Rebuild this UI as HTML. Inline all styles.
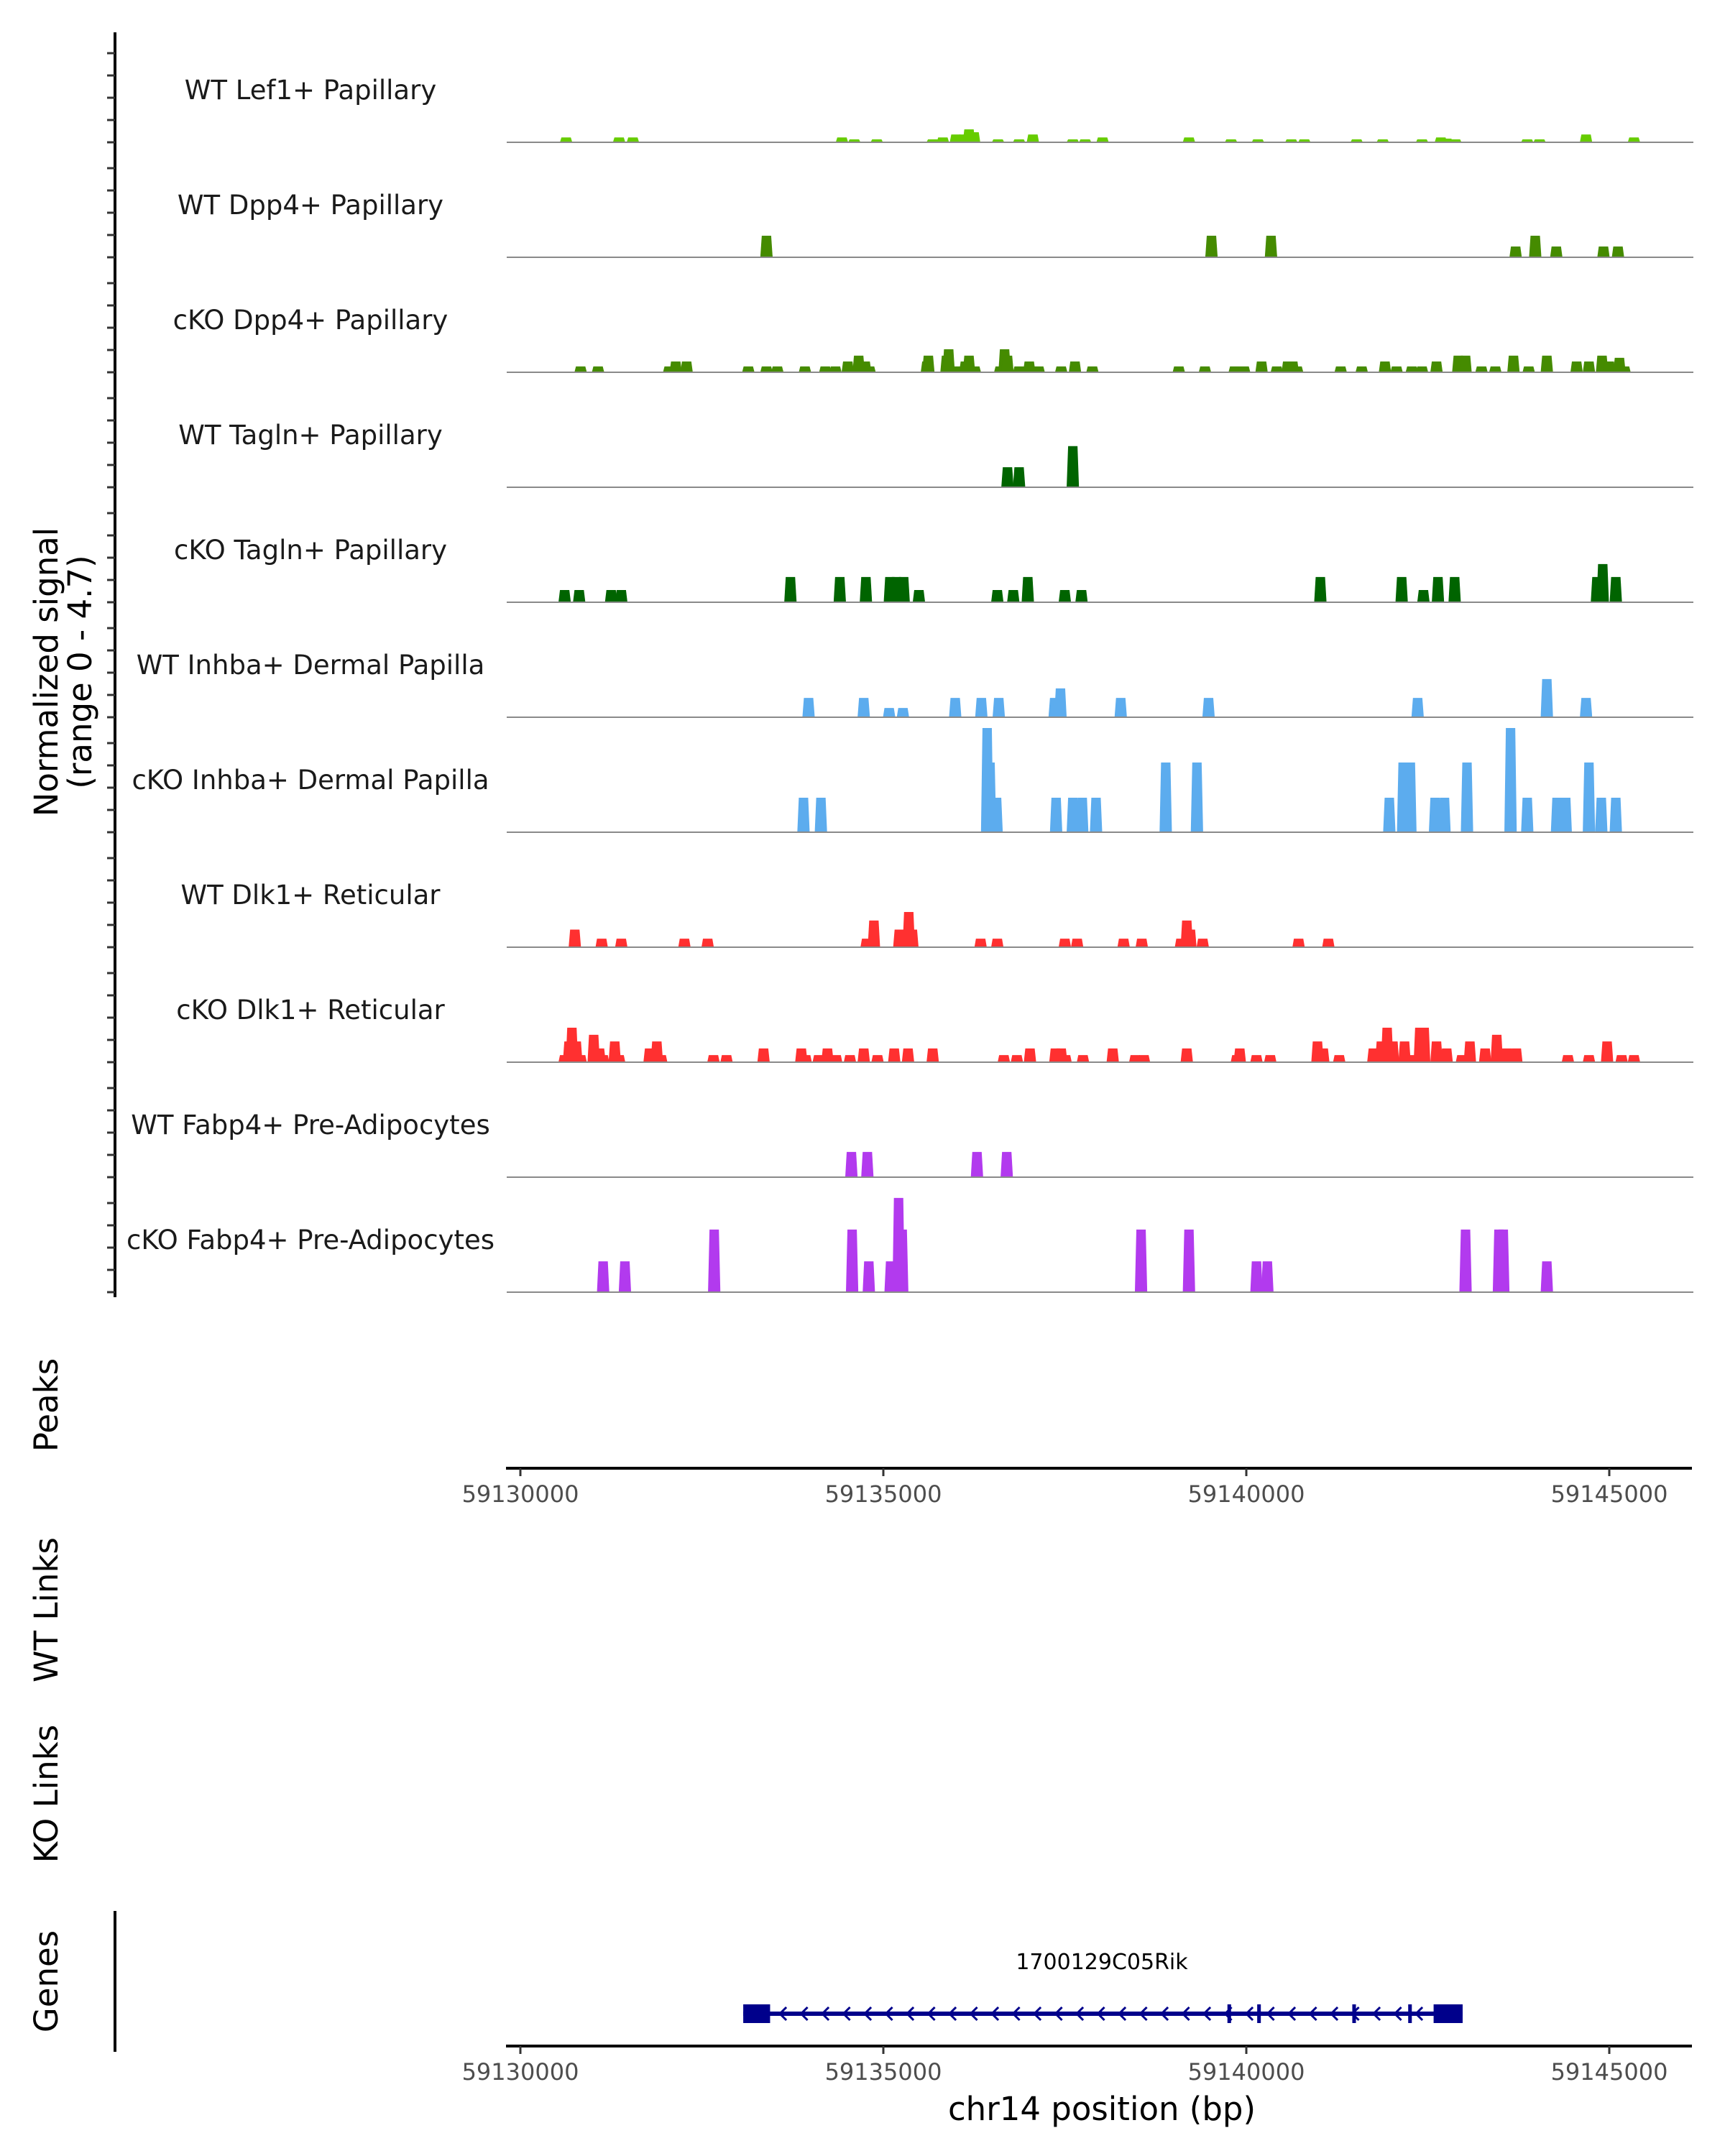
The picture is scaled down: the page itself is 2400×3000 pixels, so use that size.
<!DOCTYPE html>
<html><head><meta charset="utf-8"><style>
html,body{margin:0;padding:0;background:#fff;}
svg{display:block;font-family:"DejaVu Sans","Liberation Sans",sans-serif;}
</style></head><body>
<svg id="chart" width="2400" height="3000" viewBox="0 0 2400 3000" xmlns="http://www.w3.org/2000/svg">
<rect width="2400" height="3000" fill="#fff"/>
<g id="tracks"></g>
<g id="axes"></g>
<g id="gene"></g>
</svg>
<script>
// ---- data ----
const trackNames = ["WT Lef1+ Papillary","WT Dpp4+ Papillary","cKO Dpp4+ Papillary","WT Tagln+ Papillary","cKO Tagln+ Papillary","WT Inhba+ Dermal Papilla","cKO Inhba+ Dermal Papilla","WT Dlk1+ Reticular","cKO Dlk1+ Reticular","WT Fabp4+ Pre-Adipocytes","cKO Fabp4+ Pre-Adipocytes"];
const trackColors = ["#66CC00","#458B00","#458B00","#006400","#006400","#5CACEE","#5CACEE","#FF3030","#FF3030","#B23AEE","#B23AEE"];
// peak positions in kb offset from 59130000, heights in normalized signal units
const pos1 = [0.63,1.36,1.55,4.43,4.60,4.91,5.68,5.82,6.00,6.11,6.18,6.25,6.58,6.87,7.06,7.61,7.78,8.02,9.21,9.79,10.16,10.62,10.80,11.52,11.88,12.42,12.68,12.76,12.88,13.87,14.04,14.68,15.34];
const val1 = [0.2,0.2,0.2,0.2,0.12,0.12,0.12,0.2,0.32,0.32,0.53,0.41,0.12,0.12,0.32,0.12,0.12,0.2,0.2,0.12,0.12,0.12,0.12,0.12,0.12,0.12,0.2,0.15,0.12,0.12,0.12,0.32,0.2];
const pos2 = [3.39,3.39,9.52,9.52,10.34,10.34,13.71,13.98,14.27,14.92,15.12];
const val2 = [0.44,0.88,0.44,0.88,0.44,0.88,0.44,0.88,0.44,0.44,0.44];
const pos3 = [0.83,1.07,2.05,2.14,2.29,3.14,3.39,3.54,3.92,4.20,4.34,4.51,4.66,4.75,4.81,5.60,5.62,5.87,5.90,6.02,6.13,6.18,6.26,6.61,6.67,6.71,6.87,7.01,7.14,7.45,7.64,7.88,9.07,9.43,9.84,9.97,10.21,10.42,10.57,10.64,10.70,11.30,11.59,11.91,12.07,12.28,12.42,12.62,12.92,13.02,13.24,13.43,13.68,13.89,14.14,14.55,14.72,14.90,15.00,15.14,15.21];
const val3 = [0.24,0.24,0.24,0.44,0.44,0.24,0.24,0.24,0.24,0.24,0.24,0.44,0.68,0.44,0.24,0.44,0.68,0.68,0.94,0.24,0.44,0.68,0.24,0.24,0.94,0.68,0.24,0.44,0.24,0.24,0.44,0.24,0.24,0.24,0.24,0.24,0.44,0.24,0.44,0.44,0.24,0.24,0.24,0.44,0.24,0.24,0.24,0.44,0.68,0.68,0.24,0.24,0.68,0.24,0.68,0.44,0.44,0.68,0.44,0.59,0.24];
const pos4 = [6.71,6.87,7.61];
const val4 = [0.82,0.82,1.68];
const pos5 = [0.61,0.81,1.25,1.39,3.72,4.40,4.76,5.09,5.18,5.28,5.49,6.57,6.79,6.99,7.50,7.73,11.02,12.14,12.44,12.64,12.87,14.83,14.91,15.09];
const val5 = [0.5,0.5,0.5,0.5,1.03,1.03,1.03,1.03,1.03,1.03,0.5,0.5,0.5,1.03,0.5,0.5,1.03,1.03,0.5,1.03,1.03,1.03,1.56,1.03];
const pos6 = [3.97,4.73,5.08,5.27,5.99,6.35,6.59,7.36,7.44,8.27,9.48,12.36,14.14,14.68];
const val6 = [0.79,0.79,0.38,0.38,0.79,0.79,0.79,0.79,1.18,0.79,0.79,0.79,1.56,0.79];
const pos7 = [3.90,4.14,6.43,6.47,6.56,7.38,7.61,7.74,7.93,8.89,9.32,11.97,12.16,12.26,12.60,12.73,13.04,13.64,13.87,14.28,14.40,14.72,14.89,15.09];
const val7 = [1.41,1.41,4.26,2.85,1.41,1.41,1.41,1.41,1.41,2.85,2.85,1.41,2.85,2.85,1.41,1.41,2.85,4.26,1.41,1.41,1.41,2.85,1.41,1.41];
const pos8 = [0.75,1.12,1.39,2.26,2.58,4.77,4.87,5.22,5.35,5.40,6.34,6.57,7.50,7.67,8.31,8.56,9.10,9.18,9.23,9.40,10.72,11.13];
const val8 = [0.72,0.35,0.35,0.35,0.35,0.35,1.09,0.72,1.44,0.72,0.35,0.35,0.35,0.35,0.35,0.35,0.35,1.09,0.72,0.35,0.35,0.35];
const pos9 = [0.61,0.67,0.71,0.77,0.83,1.01,1.09,1.14,1.30,1.36,1.78,1.88,1.94,2.66,2.84,3.35,3.87,3.93,4.11,4.23,4.35,4.54,4.73,4.92,5.15,5.34,5.68,6.66,6.84,7.02,7.37,7.45,7.51,7.75,8.16,8.47,8.59,9.18,9.87,9.91,10.14,10.33,10.98,11.06,11.28,11.75,11.86,11.94,12.02,12.18,12.28,12.39,12.45,12.62,12.76,12.97,13.08,13.29,13.45,13.59,13.72,14.43,14.72,14.97,15.17,15.34];
const val9 = [0.29,0.85,1.41,0.85,0.29,1.12,0.56,0.29,0.85,0.29,0.56,0.85,0.29,0.29,0.29,0.56,0.56,0.29,0.29,0.56,0.29,0.29,0.56,0.29,0.56,0.56,0.56,0.29,0.29,0.56,0.56,0.56,0.29,0.29,0.56,0.29,0.29,0.56,0.29,0.56,0.29,0.29,0.85,0.56,0.29,0.56,0.85,1.41,0.85,0.85,0.29,1.41,1.41,0.85,0.56,0.29,0.85,0.56,1.12,0.56,0.56,0.29,0.29,0.85,0.29,0.29];
const pos10 = [4.56,4.78,6.29,6.70];
const val10 = [1.03,1.03,1.03,1.03];
const pos11 = [1.14,1.44,2.67,4.57,4.80,5.10,5.21,5.26,8.55,9.21,10.14,10.29,13.02,13.48,13.54,14.14];
const val11 = [1.26,1.26,2.56,2.56,1.26,1.26,3.85,2.56,2.56,2.56,1.26,1.26,2.56,2.56,2.56,1.26];
const trackPos = [pos1,pos2,pos3,pos4,pos5,pos6,pos7,pos8,pos9,pos10,pos11];
const trackVal = [val1,val2,val3,val4,val5,val6,val7,val8,val9,val10,val11];
const xTicks = [59130000,59135000,59140000,59145000];
const geneName = "1700129C05Rik";
const geneStart = 59133070, geneEnd = 59142980;
const exonStarts = [59133070,59139740,59140150,59141460,59142230,59142580];
const exonEnds   = [59133440,59139790,59140200,59141510,59142280,59142980];

// ---- scales ----
const NS="http://www.w3.org/2000/svg";
const X0=724, PXKB=101;
const xScale = bp => X0 + (bp-59130000)/1000*PXKB;
const xKb = kb => X0 + kb*PXKB;
const TRACK_H=160, BASE0=198, YMAX=4.7;
const yScale = v => v/YMAX*TRACK_H;
function mk(tag, attrs, parent){const e=document.createElementNS(NS,tag);for(const k in attrs)e.setAttribute(k,attrs[k]);parent.appendChild(e);return e;}
const tracksG=document.getElementById('tracks');
const axesG=document.getElementById('axes');
const geneG=document.getElementById('gene');
const W=0.17;

trackNames.forEach((name,i)=>{
  const base=BASE0+i*TRACK_H;
  const g=mk('g',{},tracksG);
  
  
  const lab=mk('text',{x:432,y:base-60,'text-anchor':'middle','font-size':37,fill:'#1a1a1a'},g);
  lab.textContent=name;
  
  
  trackPos[i].forEach((p,j)=>{
    const h=yScale(trackVal[i][j]);
    const xl=xKb(p-W/2), xr=xKb(p+W/2), xm1=xKb(p-W*0.38), xm2=xKb(p+W*0.38);
    const poly=mk('polygon',{points:`${xl},${base} ${xm1},${base-h} ${xm2},${base-h} ${xr},${base}`,fill:trackColors[i]},g);
    
    
  });
  const bl=mk('line',{x1:705,x2:2356,y1:base,y2:base,stroke:'#8a8a8a','stroke-width':2},g);
  
  
});

// left signal axis
const ya=mk('line',{x1:160,x2:160,y1:45,y2:1805,stroke:'#000','stroke-width':4},axesG);


for(let i=0;i<11;i++){const base=BASE0+i*TRACK_H;for(let k=0;k<5;k++){
  const t=mk('line',{x1:149,x2:160,y1:base-k*31,y2:base-k*31,stroke:'#333','stroke-width':3},axesG);
  
  
}}
function rotText(txt,x,y,size,name){const t=mk('text',{x:x,y:y,'text-anchor':'middle','font-size':size,fill:'#000',transform:`rotate(-90 ${x} ${y})`},axesG);t.textContent=txt;
  
  return t;}
rotText('Normalized signal',80,935,45,'y-axis-title');
rotText('(range 0 - 4.7)',127,935,45,'y-axis-subtitle');
rotText('Peaks',80,1955,45,'peaks-title');
rotText('WT Links',80,2240,45,'wt-links-title');
rotText('KO Links',80,2496,45,'ko-links-title');
rotText('Genes',80,2757,45,'genes-title');

function xAxis(y,name){
  const a=mk('line',{x1:704,x2:2354,y1:y,y2:y,stroke:'#000','stroke-width':4},axesG);
  
  
  xTicks.forEach(v=>{
    const t=mk('line',{x1:xScale(v),x2:xScale(v),y1:y,y2:y+11,stroke:'#333','stroke-width':3},axesG);
    
    
    const l=mk('text',{x:xScale(v),y:y+47,'text-anchor':'middle','font-size':32,fill:'#4d4d4d'},axesG);
    l.textContent=v;
    
    
  });
}
xAxis(2043,'peaks-x-axis');
xAxis(2847,'genes-x-axis');
const gy=mk('line',{x1:160,x2:160,y1:2659,y2:2855,stroke:'#000','stroke-width':4},axesG);


const xt=mk('text',{x:1533,y:2950,'text-anchor':'middle','font-size':45,fill:'#000'},axesG);
xt.textContent='chr14 position (bp)';



// gene
const GY=2802;
const gl=mk('line',{x1:xScale(geneStart),x2:xScale(geneEnd),y1:GY,y2:GY,stroke:'#00008B','stroke-width':6},geneG);


for(let x=xScale(geneStart)+55;x<xScale(geneEnd)-40;x+=29.5){
  const c=mk('polyline',{points:`${x+5},${GY-9} ${x-4},${GY} ${x+5},${GY+9}`,fill:'none',stroke:'#00008B','stroke-width':3},geneG);
  
  
}
exonStarts.forEach((s,i)=>{
  const x1=xScale(s), x2=xScale(exonEnds[i]);
  const r=mk('rect',{x:x1,y:GY-13,width:Math.max(x2-x1,5),height:26,fill:'#00008B'},geneG);
  
  
});
const gn=mk('text',{x:1533,y:2740,'text-anchor':'middle','font-size':30,fill:'#000'},geneG);
gn.textContent=geneName;


</script>
</body></html>
